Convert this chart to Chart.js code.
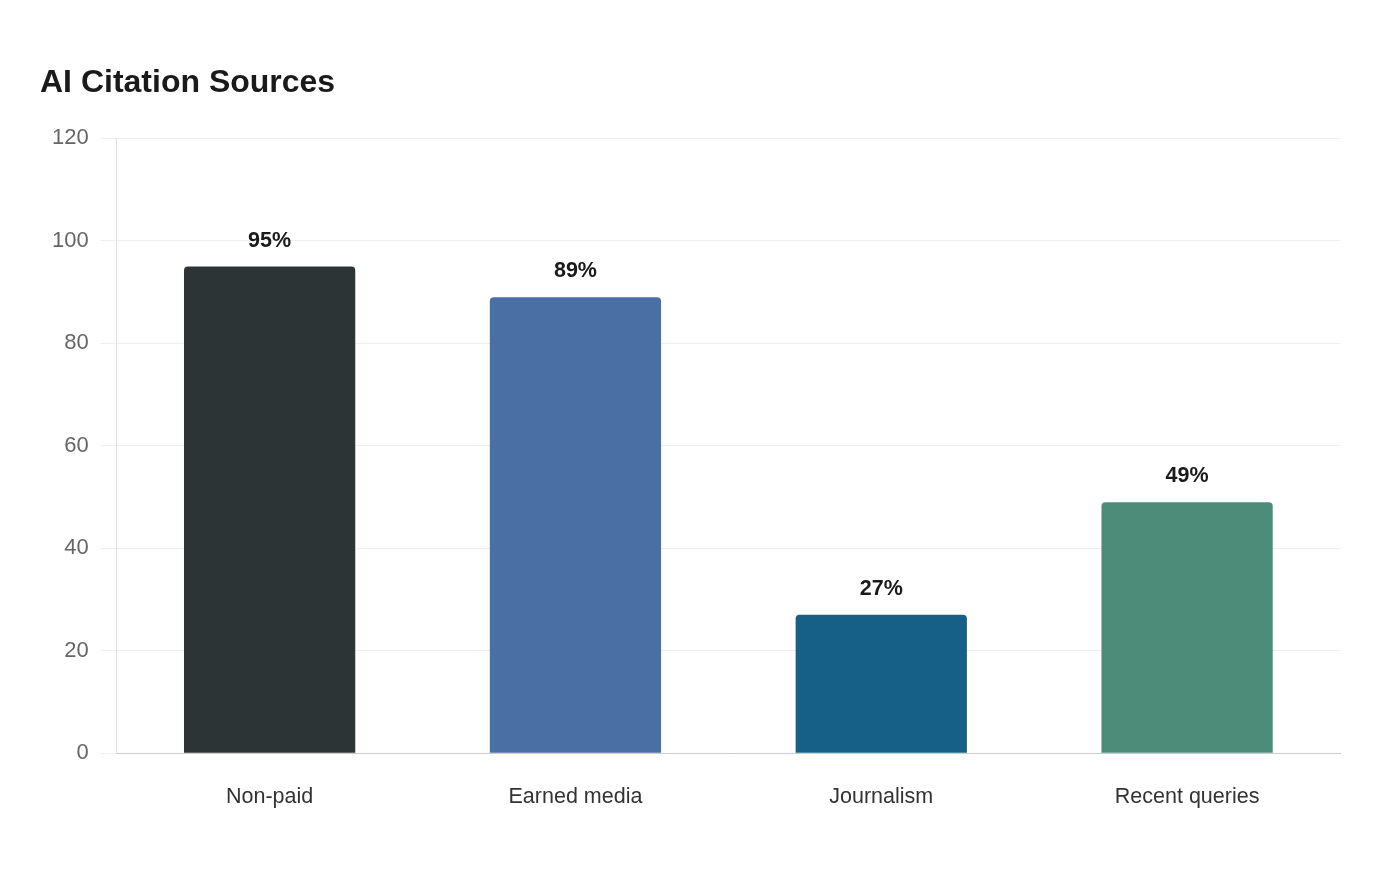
<!DOCTYPE html>
<html>
<head>
<meta charset="utf-8">
<script src="https://cdn.jsdelivr.net/npm/chart.js@4.4.0/dist/chart.umd.min.js"></script>
<style>
  html, body { margin: 0; padding: 0; background: #fff; }
  #wrap { width: 1400px; height: 880px; }
</style>
</head>
<body>
<div id="wrap"><canvas id="chart" width="1400" height="880"></canvas></div>
<script>
const categories = ['Non-paid', 'Earned media', 'Journalism', 'Recent queries'];
const shares = [95, 89, 27, 49];
const barColors = ['#2d3436', '#4a6fa5', '#166088', '#4e8c7a'];
const yTicks = [0, 20, 40, 60, 80, 100, 120];

// values above each bar
const valueLabels = {
    id: 'valueLabels',
    afterDatasetsDraw(chart) {
        const ctx = chart.ctx;
        const meta = chart.getDatasetMeta(0);
        ctx.save();
        ctx.font = 'bold 21.5px "Liberation Sans", Arial, sans-serif';
        ctx.fillStyle = '#1a1a1a';
        ctx.textAlign = 'center';
        ctx.textBaseline = 'bottom';
        meta.data.forEach((bar, i) => {
            ctx.fillText(shares[i] + '%', bar.x, bar.y - 15);
        });
        ctx.restore();
    }
};

Chart.defaults.font.family = '"Liberation Sans", Arial, sans-serif';

new Chart(document.getElementById('chart').getContext('2d'), {
    type: 'bar',
    data: {
        labels: categories,
        datasets: [{
            data: shares,
            backgroundColor: barColors,
            borderRadius: { topLeft: 4, topRight: 4 },
            borderSkipped: 'bottom',
            categoryPercentage: 0.8,
            barPercentage: 0.7
        }]
    },
    options: {
        responsive: false,
        animation: false,
        layout: { padding: { left: 40, right: 60, top: 64, bottom: 47 } },
        scales: {
            x: {
                grid: { display: false },
                border: { color: '#cccccc', width: 1 },
                ticks: { color: '#333333', font: { size: 21.5 }, padding: 23 }
            },
            y: {
                min: 0,
                max: 120,
                afterBuildTicks(axis) { axis.ticks = yTicks.map(v => ({ value: v })); },
                grid: { color: '#eeeeee', tickLength: 16 },
                border: { color: '#e0e0e0' },
                ticks: { color: '#666666', font: { size: 22 }, padding: 12 }
            }
        },
        plugins: {
            legend: { display: false },
            tooltip: { enabled: false },
            title: {
                display: true,
                text: 'AI Citation Sources',
                align: 'start',
                color: '#1a1a1a',
                font: { size: 32, weight: 'bold' },
                padding: { top: 0, bottom: 36 }
            }
        }
    },
    plugins: [valueLabels]
});
</script>
</body>
</html>
